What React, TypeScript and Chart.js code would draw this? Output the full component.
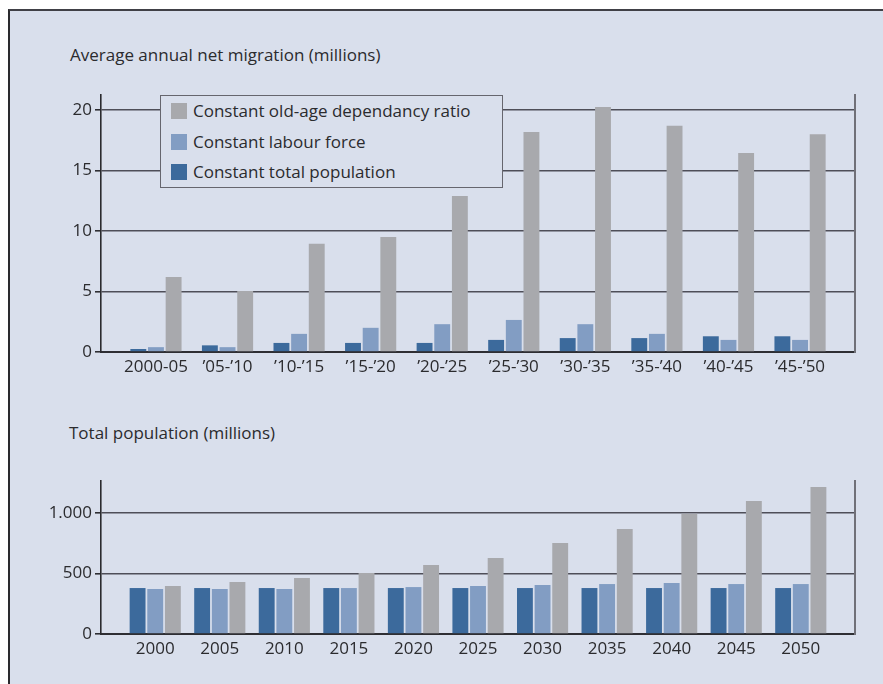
import React, { useEffect, useRef } from "react";
import { Chart, registerables } from "chart.js";

Chart.register(...registerables);

// ---- data ----
const periodLabels = ["2000-05", "’05-’10", "’10-’15", "’15-’20", "’20-’25", "’25-’30", "’30-’35", "’35-’40", "’40-’45", "’45-’50"];
const migTotalPop = [0.25, 0.55, 0.75, 0.75, 0.75, 1.0, 1.15, 1.15, 1.3, 1.3];
const migLabour = [0.4, 0.4, 1.5, 2.0, 2.3, 2.65, 2.3, 1.5, 1.0, 1.0];
const migOldAge = [6.2, 5.05, 8.95, 9.5, 12.9, 18.2, 20.25, 18.7, 16.45, 18.0];

const yearLabels = ["2000", "2005", "2010", "2015", "2020", "2025", "2030", "2035", "2040", "2045", "2050"];
const popTotalPop = [380, 380, 380, 380, 380, 380, 380, 380, 380, 380, 380];
const popLabour = [372, 372, 372, 380, 388, 397, 405, 413, 422, 413, 413];
const popOldAge = [397, 430, 463, 504, 570, 628, 752, 868, 995, 1099, 1215];

const seriesNames = ["Constant total population", "Constant labour force", "Constant old-age dependancy ratio"];
const legendOrder = [2, 1, 0];

const migTicks = [0, 5, 10, 15, 20];
const popTicks = [0, 500, 1000];

const COLORS = ["#3c6a9c", "#829dc3", "#a8a9ad"];
const BG = "#d9dfec";
const FONT = "'Open Sans', 'Noto Sans', sans-serif";
const TEXT = "#2b2b2e";

function fmtThousands(v: number): string {
  const s = String(Math.round(v));
  return s.replace(/\B(?=(\d{3})+(?!\d))/g, ".");
}

type ChartProps = {
  labels: string[];
  series: number[][];
  yMax: number;
  yTicks: number[];
  fmt: (v: number) => string;
  xPad: number;
  catPct: number;
  top: number;
  height: number;
  padTop: number;
  padBottom: number;
};

function BarChart(p: ChartProps) {
  const ref = useRef<HTMLCanvasElement | null>(null);
  useEffect(() => {
    if (!ref.current) return;
    const n = p.labels.length;
    const chart = new Chart(ref.current, {
      type: "bar",
      data: {
        datasets: p.series.map((vals, si) => ({
          label: seriesNames[si],
          data: vals.map((v, i) => ({ x: i, y: v })),
          backgroundColor: COLORS[si],
          borderWidth: 0,
          barPercentage: 0.9,
          categoryPercentage: p.catPct,
        })),
      },
      options: {
        animation: false,
        responsive: true,
        maintainAspectRatio: false,
        layout: { padding: { left: 0, right: 28, top: p.padTop, bottom: p.padBottom } },
        plugins: {
          legend: { display: false },
          tooltip: { enabled: false },
          title: { display: false },
        },
        scales: {
          x: {
            type: "linear",
            offset: false,
            min: -p.xPad,
            max: n - 1 + p.xPad,
            afterFit: (s: any) => {
              s.height = 30;
            },
            afterBuildTicks: (s: any) => {
              s.ticks = p.labels.map((_, i) => ({ value: i }));
            },
            ticks: {
              autoSkip: false,
              maxRotation: 0,
              padding: 5,
              color: TEXT,
              font: { family: FONT, size: 17 },
              callback: (v: any) => p.labels[Math.round(Number(v))] ?? "",
            },
            grid: { display: false, drawTicks: false, offset: false },
            border: { display: true, color: "#2e2e33", width: 2 },
          },
          y: {
            type: "linear",
            min: 0,
            max: p.yMax,
            afterFit: (s: any) => {
              s.width = 101;
            },
            afterBuildTicks: (s: any) => {
              s.ticks = p.yTicks.map((v) => ({ value: v }));
            },
            ticks: {
              padding: 3,
              color: TEXT,
              font: { family: FONT, size: 17 },
              callback: (v: any) => p.fmt(Number(v)),
            },
            grid: {
              color: "#4e4e58",
              lineWidth: 1.6,
              tickLength: 6,
              tickColor: "#2e2e33",
              drawTicks: true,
            },
            border: { display: true, color: "#2a2a2e", width: 1.6 },
          },
          y2: {
            type: "linear",
            position: "right",
            min: 0,
            max: 1,
            afterFit: (s: any) => {
              s.width = 0;
            },
            ticks: { display: false },
            grid: { drawOnChartArea: false, drawTicks: false },
            border: { display: true, color: "#707078", width: 2 },
          },
        },
      },
    });
    return () => chart.destroy();
  }, []);
  return (
    <div style={{ position: "absolute", left: 0, top: p.top, width: 883, height: p.height }}>
      <canvas ref={ref} />
    </div>
  );
}

export default function App() {
  const txt: React.CSSProperties = {
    position: "absolute",
    fontFamily: FONT,
    fontSize: 17,
    lineHeight: "20px",
    color: TEXT,
    whiteSpace: "nowrap",
  };
  return (
    <div style={{ position: "absolute", left: 0, top: 0, width: 883, height: 684, overflow: "hidden", background: "#fff" }}>
      <div
        style={{
          position: "absolute",
          left: 8,
          top: 9,
          width: 875,
          height: 675,
          boxSizing: "border-box",
          background: BG,
          borderTop: "2px solid #404046",
          borderLeft: "2px solid #2a2a2e",
        }}
      />
      <div style={{ ...txt, left: 70, top: 45 }}>Average annual net migration (millions)</div>
      <div style={{ ...txt, left: 69, top: 423 }}>Total population (millions)</div>
      <BarChart
        labels={periodLabels}
        series={[migTotalPop, migLabour, migOldAge]}
        yMax={21.25}
        yTicks={migTicks}
        fmt={(v) => String(v)}
        xPad={0.768}
        catPct={0.74}
        top={0}
        height={400}
        padTop={95}
        padBottom={18}
      />
      <BarChart
        labels={yearLabels}
        series={[popTotalPop, popLabour, popOldAge]}
        yMax={1265}
        yTicks={popTicks}
        fmt={fmtThousands}
        xPad={0.84}
        catPct={0.82}
        top={400}
        height={284}
        padTop={81}
        padBottom={20}
      />
      <div
        style={{
          position: "absolute",
          left: 160,
          top: 95,
          width: 343,
          height: 93,
          boxSizing: "border-box",
          border: "1.5px solid #66666e",
          background: BG,
        }}
      >
        {legendOrder.map((si, r) => (
          <div key={si} style={{ position: "absolute", left: 10, top: 5 + r * 30.5, height: 20, display: "flex", alignItems: "center" }}>
            <div style={{ width: 16, height: 16, background: COLORS[si], marginRight: 6 }} />
            <span style={{ fontFamily: FONT, fontSize: 17, lineHeight: "20px", color: TEXT, whiteSpace: "nowrap" }}>{seriesNames[si]}</span>
          </div>
        ))}
      </div>
    </div>
  );
}
